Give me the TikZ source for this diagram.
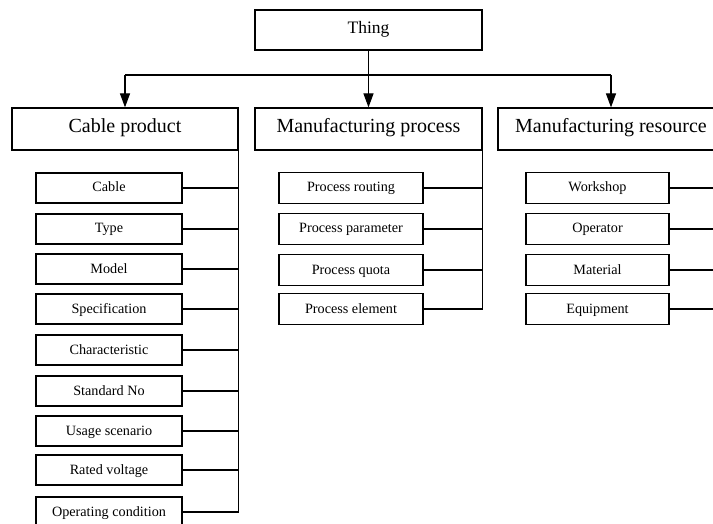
\documentclass[tikz,border=0pt]{standalone}
\usepackage{fontspec}
\setmainfont{Liberation Serif}
\usetikzlibrary{arrows.meta}
\begin{document}
\begin{tikzpicture}[x=1pt,y=-1pt,
  box/.style={draw, line width=1.2pt, inner sep=0pt, anchor=center, text height=0.8em, text depth=0pt},
  topbox/.style={box, minimum width=226pt, minimum height=42pt, font=\fontsize{20}{22}\selectfont},
  cpchild/.style={box, minimum width=146pt, minimum height=30pt, font=\fontsize{14.2}{16}\selectfont},
  mpchild/.style={box, minimum width=144pt, minimum height=31pt, font=\fontsize{14.2}{16}\selectfont},
  mrchild/.style={box, minimum width=143pt, minimum height=31pt, font=\fontsize{14.2}{16}\selectfont},
  conn/.style={line width=1.2pt},
  arr/.style={conn, -{Triangle[length=14pt,width=10pt]}}]
\useasboundingbox (0,0) rectangle (713,524);
\clip (0,0) rectangle (713,524);
\node[box, minimum width=227pt, minimum height=40pt, font=\fontsize{17.5}{20}\selectfont] (thing) at (368.5,30) {Thing};
\node[topbox] (cp) at (125,129) {Cable product};
\node[topbox, minimum width=227pt] (mp) at (368.5,129) {Manufacturing process};
\node[topbox] (mr) at (611,129) {Manufacturing resource};
\coordinate (bus) at (368.5,75);
\draw[conn] (thing.south) -- (bus);
\draw[conn] (bus -| cp.north) -- (bus -| mr.north);
\draw[arr] (bus -| cp.north) -- (cp.north);
\draw[arr] (bus) -- (mp.north);
\draw[arr] (bus -| mr.north) -- (mr.north);
% Cable product children
\node[cpchild] (c1) at (109,188) {Cable};
\node[cpchild] (c2) at (109,229) {Type};
\node[cpchild] (c3) at (109,269) {Model};
\node[cpchild] (c4) at (109,309) {Specification};
\node[cpchild] (c5) at (109,350) {Characteristic};
\node[cpchild] (c6) at (109,391) {Standard No};
\node[cpchild] (c7) at (109,431) {Usage scenario};
\node[cpchild] (c8) at (109,470) {Rated voltage};
\node[cpchild] (c9) at (109,512) {Operating condition};
\draw[conn] (cp.south east) -- (cp.south east |- c9.east);
\foreach \n in {c1,c2,c3,c4,c5,c6,c7,c8,c9}
  \draw[conn] (\n.east) -- (\n.east -| cp.south east);
% Manufacturing process children
\node[mpchild] (p1) at (351,188) {Process routing};
\node[mpchild] (p2) at (351,229) {Process parameter};
\node[mpchild] (p3) at (351,270) {Process quota};
\node[mpchild] (p4) at (351,309) {Process element};
\draw[conn] (mp.south east) -- (mp.south east |- p4.east);
\foreach \n in {p1,p2,p3,p4}
  \draw[conn] (\n.east) -- (\n.east -| mp.south east);
% Manufacturing resource children
\node[mrchild] (r1) at (597.5,188) {Workshop};
\node[mrchild] (r2) at (597.5,229) {Operator};
\node[mrchild] (r3) at (597.5,270) {Material};
\node[mrchild] (r4) at (597.5,309) {Equipment};
\draw[conn] (mr.south east) -- (mr.south east |- r4.east);
\foreach \n in {r1,r2,r3,r4}
  \draw[conn] (\n.east) -- (\n.east -| mr.south east);
\end{tikzpicture}
\end{document}
